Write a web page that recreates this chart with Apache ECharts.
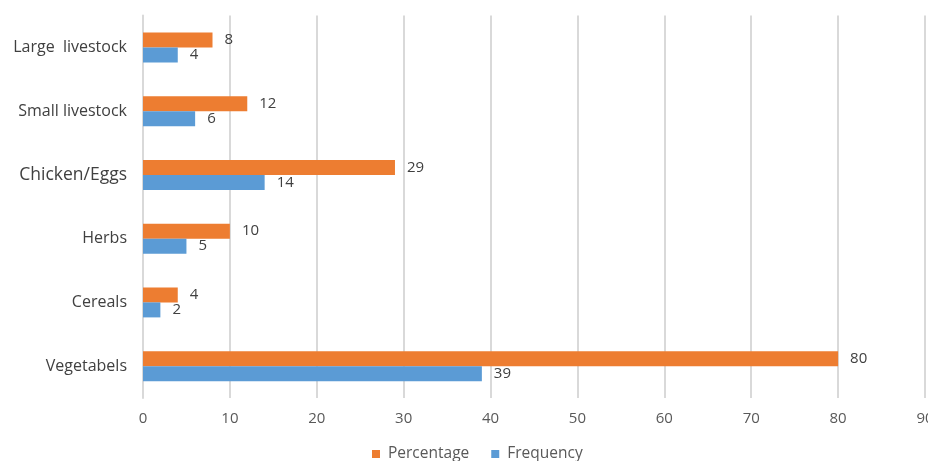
<!DOCTYPE html>
<html><head><meta charset="utf-8">
<script src="https://cdn.jsdelivr.net/npm/echarts@6/dist/echarts.min.js"></script>
<style>html,body{margin:0;padding:0;background:#fff}#c{width:928px;height:461px}</style>
</head><body><div id="c"></div>
<script>
const categories = ['Vegetabels', 'Cereals', 'Herbs', 'Chicken/Eggs', 'Small livestock', 'Large  livestock'];
const percentage = [80, 4, 10, 29, 12, 8];
const frequency = [39, 2, 5, 14, 6, 4];
const xTicks = [0, 10, 20, 30, 40, 50, 60, 70, 80, 90];

const chart = echarts.init(document.getElementById('c'));
const font = "'Open Sans', 'Noto Sans', sans-serif";
const lbl = {show: true, position: 'right', distance: 12, color: '#404040', fontSize: 15, fontFamily: font};
chart.setOption({
  animation: false,
  textStyle: {fontFamily: font},
  grid: {left: 143, right: 3, top: 15.6, bottom: 63, outerBoundsMode: 'none', containLabel: false},
  legend: {
    top: 446, left: 372, padding: 0, itemWidth: 8, itemHeight: 8, itemGap: 22, icon: 'rect',
    textStyle: {color: '#595959', fontSize: 15.5, fontFamily: font, padding: [0, 0, 0, 3]},
    data: ['Percentage', 'Frequency']
  },
  xAxis: {
    type: 'value', min: xTicks[0], max: xTicks[xTicks.length - 1], interval: 10,
    axisLine: {show: false}, axisTick: {show: false},
    splitLine: {lineStyle: {color: '#d9d9d9', width: 2}},
    axisLabel: {color: '#595959', fontSize: 15, fontFamily: font, margin: 13, hideOverlap: false}
  },
  yAxis: {
    type: 'category', data: categories,
    axisLine: {lineStyle: {color: '#d9d9d9', width: 2}}, axisTick: {show: false},
    axisLabel: {
      color: '#404040', fontSize: 16, fontFamily: font, margin: 16,
      formatter: v => v === 'Chicken/Eggs' ? '{b|' + v + '}' : v,
      rich: {b: {fontSize: 17.5, fontFamily: font, color: '#404040'}}
    }
  },
  series: [
    {name: 'Percentage', type: 'bar', data: percentage, barWidth: 15, barGap: '0%',
     itemStyle: {color: '#ED7D31'}, label: lbl},
    {name: 'Frequency', type: 'bar', data: frequency, barWidth: 15, barGap: '0%',
     itemStyle: {color: '#5B9BD5'}, label: lbl}
  ]
});
</script></body></html>
